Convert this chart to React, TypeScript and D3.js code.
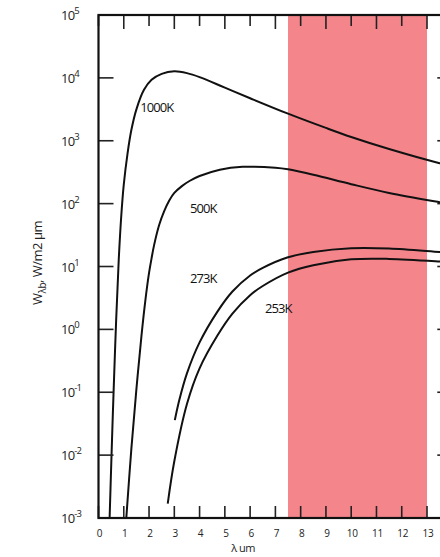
import * as d3 from "d3";
import { useEffect, useRef } from "react";

// wavelength (um) and spectral emissive power (W/m2 um)
const lam1000 = [0.44, 0.5, 0.55, 0.6, 0.7, 0.8, 0.9, 1.0, 1.15, 1.3, 1.5, 1.8, 2.1, 2.5, 3.0, 3.5, 4.0, 5.0, 6.0, 7.5, 9.0, 10, 11.5, 13.5, 14];
const w1000 = [0.001, 0.0063, 0.0275, 0.11, 1.45, 12.6, 63, 200, 630, 1480, 3160, 6460, 9330, 11600, 12700, 11900, 10300, 7000, 4750, 2700, 1600, 1150, 740, 440, 395];

const lam500 = [1.1, 1.3, 1.5, 1.7, 1.85, 2.0, 2.1, 2.2, 2.4, 2.6, 2.8, 3.0, 3.3, 3.6, 4.0, 4.8, 5.7, 7.0, 7.5, 8.5, 10, 11.5, 13.5, 14];
const w500 = [0.001, 0.0126, 0.112, 0.79, 2.8, 7.9, 13.5, 21.9, 45.7, 75.9, 112, 148, 190, 229, 275, 347, 385, 372, 351, 288, 204, 148, 105, 97];

const lam273 = [3.02, 3.2, 3.5, 4.0, 4.7, 5.3, 6.0, 6.5, 7.5, 8.5, 10, 11.5, 13.5, 14];
const w273 = [0.036, 0.076, 0.2, 0.62, 1.9, 4, 7.2, 9.5, 14, 17, 19.5, 19.3, 17, 16.5];

const lam253 = [2.74, 3.0, 3.5, 4.0, 4.7, 5.3, 6.0, 6.5, 7.5, 8.5, 10, 11.5, 13.5, 14];
const w253 = [0.0017, 0.008, 0.065, 0.24, 0.79, 1.78, 3.5, 4.9, 8, 10.5, 13, 13.2, 12, 11.6];

const curveLabels = ["1000K", "500K", "273K", "253K"];
const labelAt = [[1.65, 2900], [3.62, 70], [3.62, 5.5], [6.59, 1.8]];

const xTicks = d3.range(0, 14);
const yExponents = [5, 4, 3, 2, 1, 0, -1, -2, -3];
const bandStart = 7.5;
const bandEnd = 13;

export default function App() {
  const ref = useRef<SVGSVGElement>(null);

  useEffect(() => {
    if (!ref.current) return;
    const svg = d3.select(ref.current);
    svg.selectAll("*").remove();

    const width = 440;
    const height = 557;
    const left = 98.5;
    const top = 15;
    const bottom = 518;
    const right = left + 14 * 25.27;

    svg.attr("width", width).attr("height", height);

    const x = d3.scaleLinear().domain([0, 14]).range([left, right]);
    const y = d3.scaleLog().domain([1e-3, 1e5]).range([bottom, top]);

    const font = "'Open Sans', 'DejaVu Sans', sans-serif";

    svg.append("rect").attr("width", width).attr("height", height).attr("fill", "#fff");

    // atmospheric window band
    svg.append("rect")
      .attr("x", x(bandStart))
      .attr("y", top)
      .attr("width", x(bandEnd) - x(bandStart))
      .attr("height", bottom - top)
      .attr("fill", "#f3858b");

    svg.append("defs").append("clipPath").attr("id", "plot")
      .append("rect")
      .attr("x", left).attr("y", top)
      .attr("width", right - left).attr("height", bottom - top);

    const line = d3.line<[number, number]>()
      .x(d => x(d[0]))
      .y(d => y(d[1]))
      .curve(d3.curveCatmullRom.alpha(0.5));

    const series = [
      [lam1000, w1000],
      [lam500, w500],
      [lam273, w273],
      [lam253, w253],
    ];

    svg.append("g").attr("clip-path", "url(#plot)")
      .selectAll("path")
      .data(series)
      .enter()
      .append("path")
      .attr("d", ([l, w]) => line(l.map((v, i) => [v, w[i]] as [number, number])))
      .attr("fill", "none")
      .attr("stroke", "#111")
      .attr("stroke-width", 2);

    // ticks
    const ticks = svg.append("g").attr("stroke", "#222").attr("stroke-width", 1.6);
    xTicks.forEach(t => {
      ticks.append("line").attr("x1", x(t)).attr("x2", x(t)).attr("y1", bottom).attr("y2", bottom - 12);
      ticks.append("line").attr("x1", x(t)).attr("x2", x(t)).attr("y1", top).attr("y2", top + (t % 2 ? 14 : 11));
    });
    yExponents.forEach(e => {
      ticks.append("line").attr("x1", left).attr("x2", left + 15).attr("y1", y(10 ** e)).attr("y2", y(10 ** e));
      ticks.append("line").attr("x1", right).attr("x2", right - 15).attr("y1", y(10 ** e)).attr("y2", y(10 ** e));
    });

    // frame
    svg.append("rect")
      .attr("x", left).attr("y", top)
      .attr("width", right - left).attr("height", bottom - top)
      .attr("fill", "none")
      .attr("stroke", "#111")
      .attr("stroke-width", 2.2);

    // y tick labels
    yExponents.forEach(e => {
      const t = svg.append("text")
        .attr("x", 61)
        .attr("y", y(10 ** e) + 5)
        .attr("font-family", font)
        .attr("font-size", "13px")
        .attr("letter-spacing", "-0.8")
        .attr("fill", "#222");
      t.append("tspan").text("10");
      t.append("tspan").attr("dy", -6).attr("font-size", "9.5px").text(e < 0 ? `-${-e}` : `${e}`);
    });

    // x tick labels
    svg.append("g")
      .selectAll("text")
      .data(xTicks)
      .enter()
      .append("text")
      .attr("x", d => x(d) + 1)
      .attr("y", 537)
      .attr("text-anchor", "middle")
      .attr("font-family", font)
      .attr("font-size", "10px")
      .attr("letter-spacing", "-0.3")
      .attr("fill", "#222")
      .text(d => d);

    svg.append("text")
      .attr("x", 243)
      .attr("y", 552)
      .attr("text-anchor", "middle")
      .attr("font-family", font)
      .attr("font-size", "11px")
      .attr("letter-spacing", "-0.5")
      .attr("fill", "#222")
      .text("λ um");

    // y axis title
    const yt = svg.append("text")
      .attr("transform", "translate(42,263) rotate(-90)")
      .attr("text-anchor", "middle")
      .attr("font-family", font)
      .attr("font-size", "13px")
      .attr("letter-spacing", "-0.5")
      .attr("fill", "#222");
    yt.append("tspan").text("W");
    yt.append("tspan").attr("dy", 4).attr("font-size", "10px").text("λb");
    yt.append("tspan").attr("dy", -4).text(", W/m2 μm");

    // curve labels
    curveLabels.forEach((name, i) => {
      svg.append("text")
        .attr("x", x(labelAt[i][0]))
        .attr("y", y(labelAt[i][1]))
        .attr("font-family", font)
        .attr("font-size", "13px")
        .attr("letter-spacing", "-0.9")
        .attr("fill", "#111")
        .text(name);
    });
  }, []);

  return <svg ref={ref} style={{ position: "absolute", left: 0, top: 0 }} />;
}
